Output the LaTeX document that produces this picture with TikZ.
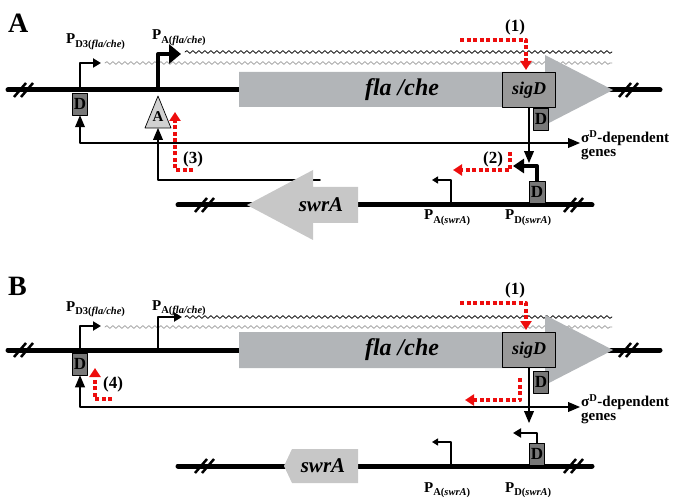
\documentclass[tikz,border=0pt]{standalone}
\usepackage{fontspec}
\setmainfont{Liberation Serif}
\usepackage{tikz}
\usetikzlibrary{arrows,arrows.meta,decorations.pathmorphing,positioning}
\definecolor{genegray}{rgb}{0.70,0.71,0.72}
\definecolor{swrgray}{rgb}{0.78,0.78,0.78}
\definecolor{siggray}{rgb}{0.60,0.60,0.60}
\definecolor{boxgray}{rgb}{0.47,0.47,0.47}
\definecolor{trigray}{rgb}{0.82,0.82,0.82}
\definecolor{wavegray}{rgb}{0.62,0.62,0.62}
\definecolor{dotred}{rgb}{0.93,0.05,0.05}
\newcommand{\prom}[2]{\textbf{P}\raisebox{-0.45ex}{\fontsize{10.5}{10.5}\selectfont\textbf{#1(\textit{#2})}}}
\newcommand{\dnabreak}[2]{\draw[line width=2.5pt,line cap=butt] (#1-10,#2+7)--(#1+2,#2-7) (#1-3,#2+7)--(#1+9,#2-7);}

\begin{document}
\begin{tikzpicture}[line cap=round,line join=round,>=triangle 45,x=1pt,y=-1pt,
		dna/.style={line width=5pt},
		sig/.style={line width=1.8pt},
		wave/.style={decorate,decoration={snake,segment length=6pt,amplitude=1.4pt},line width=0.8pt},
		thinprom/.style={line width=2pt,line cap=butt,-{Triangle[length=8pt,width=9pt]}},
		faintprom/.style={line width=1.3pt,line cap=butt,-{Triangle[length=6pt,width=7pt]}},
		thickprom/.style={line width=4pt,line cap=butt,-{Triangle[length=12pt,width=19pt]}},
		redarr/.style={color=dotred,line width=4pt,line cap=butt,dash pattern=on 4pt off 2.5pt,-{Triangle[length=9pt,width=11pt]}},
		dbox/.style={draw,fill=boxgray,line width=0.6pt,minimum width=15pt,minimum height=22pt,inner sep=0pt,font=\bfseries\fontsize{17}{17}\selectfont},
		sigbox/.style={draw,fill=siggray,line width=0.8pt,minimum width=53pt,minimum height=35pt,inner sep=0pt,font=\bfseries\itshape\fontsize{18}{18}\selectfont},
		genetext/.style={font=\bfseries\itshape\fontsize{24}{24}\selectfont},
		swrtext/.style={font=\bfseries\itshape\fontsize{21}{21}\selectfont},
		numlabel/.style={font=\bfseries\fontsize{17}{17}\selectfont,inner sep=0pt},
		plabel/.style={anchor=base west,inner sep=0pt,font=\fontsize{15}{15}\selectfont},
		siglabel/.style={anchor=west,align=left,inner sep=1pt,font=\bfseries\fontsize{15}{13.5}\selectfont},
		panel/.style={anchor=base west,inner sep=0pt,font=\bfseries\fontsize{28}{28}\selectfont}]
		\useasboundingbox (0,0) rectangle (688,497);
		%%% panel A
		\node[panel] (lblA) at (8,33) {A};
		\draw[wave] (185,52) -- (612,52);
		\draw[wave,wavegray] (105,63) -- (612,63);
		\draw[dna] (8,90) -- (660,90);
		\draw[dna] (178,205) -- (592,205);
		\dnabreak{24}{90}
		\dnabreak{629}{90}
		\dnabreak{205}{205}
		\dnabreak{574}{205}
		\fill[genegray] (239,72) -- (545,72) -- (545,55) -- (613,90) -- (545,125) -- (545,107) -- (239,107) -- cycle;
		\node[genetext] (flaa) at (402,90) {fla /che};
		\coordinate (swra) at (320,180);
		\coordinate (Abase) at (158,128);
		\draw[sig,->] (swra) -| (Abase);
		\fill[swrgray] (358,187) -- (313,187) -- (313,170) -- (247,205) -- (313,240) -- (313,223) -- (358,223) -- cycle;
		\node[swrtext] (swrAa) at (321,205) {swrA};
		\filldraw[fill=trigray,line width=0.7pt] (158,96) -- (171,128) -- (145,128) -- cycle;
		\node[font=\bfseries\fontsize{15}{15}\selectfont,inner sep=0pt] (Atri) at (158,117) {A};
		\node[sigbox] (sigDa) at (529,90) {sigD};
		\node[dbox] (Da1) at (80,104) {D};
		\node[dbox] (Da2) at (541,119) {D};
		\node[dbox,minimum width=16pt] (Da3) at (537,192) {D};
		\node[siglabel] (siga) at (580,145) {σ\textsuperscript{D}-dependent\\genes};
		\coordinate (tsa) at (529,163);
		\draw[sig,<->] (Da1.south) |- ([yshift=2pt]siga.west);
		\draw[sig,->] (sigDa.south) -- (tsa);
		\draw[thinprom] (80,90) |- (101,63);
		\draw[thickprom] (158,90) |- (181,54);
		\draw[faintprom] (451,205) |- (432,180);
		\draw[thickprom,-{Triangle[length=11pt,width=14pt]}] (Da3.north) |- (513,166);
		\draw[redarr] (460,40) -| (526,70);
		\draw[redarr] (510,152) |- (453,170);
		\draw[redarr] (193,170) -| (175,112);
		\node[numlabel] (n1a) at (515,27) {(1)};
		\node[numlabel] (n2a) at (493,159) {(2)};
		\node[numlabel] (n3a) at (193,159) {(3)};
		\node[plabel] (pd3a) at (66,44) {\prom{D3}{fla/che}};
		\node[plabel] (paa) at (152,40) {\prom{A}{fla/che}};
		\node[plabel] (pasa) at (424,220) {\prom{A}{swrA}};
		\node[plabel] (pdsa) at (505,220) {\prom{D}{swrA}};
		%%% panel B
		\node[panel] (lblB) at (8,295) {B};
		\draw[wave] (185,317) -- (612,317);
		\draw[wave,wavegray] (105,327) -- (612,327);
		\draw[dna] (8,350) -- (660,350);
		\draw[dna] (178,466) -- (592,466);
		\dnabreak{24}{350}
		\dnabreak{629}{350}
		\dnabreak{205}{466}
		\dnabreak{574}{466}
		\fill[genegray] (239,332) -- (545,332) -- (545,315) -- (613,350) -- (545,385) -- (545,368) -- (239,368) -- cycle;
		\node[genetext] (flab) at (402,350) {fla /che};
		\fill[swrgray] (358,449) -- (292,449) -- (284,466) -- (292,483) -- (358,483) -- cycle;
		\node[swrtext] (swrAb) at (323,466) {swrA};
		\node[sigbox] (sigDb) at (529,350) {sigD};
		\node[dbox] (Db1) at (80,364) {D};
		\node[dbox] (Db2) at (541,382) {D};
		\node[dbox] (Db3) at (537,454) {D};
		\node[siglabel] (sigb) at (580,409) {σ\textsuperscript{D}-dependent\\genes};
		\coordinate (tsb) at (529,423);
		\draw[sig,<->] (Db1.south) |- ([yshift=2pt]sigb.west);
		\draw[sig,->] (sigDb.south) -- (tsb);
		\draw[thinprom] (80,350) |- (101,326);
		\draw[thinprom] (158,350) |- (182,317);
		\draw[faintprom] (451,466) |- (432,442);
		\draw[thinprom] (Db3.north) |- (513,433);
		\draw[redarr] (460,303) -| (526,330);
		\draw[redarr] (520,378) |- (465,400);
		\draw[redarr] (112,399) -| (95,368);
		\node[numlabel] (n1b) at (515,290) {(1)};
		\node[numlabel] (n4b) at (113,384) {(4)};
		\node[plabel] (pd3b) at (66,311) {\prom{D3}{fla/che}};
		\node[plabel] (pab) at (152,310) {\prom{A}{fla/che}};
		\node[plabel] (pasb) at (424,492) {\prom{A}{swrA}};
		\node[plabel] (pdsb) at (505,492) {\prom{D}{swrA}};
\end{tikzpicture}
\end{document}
